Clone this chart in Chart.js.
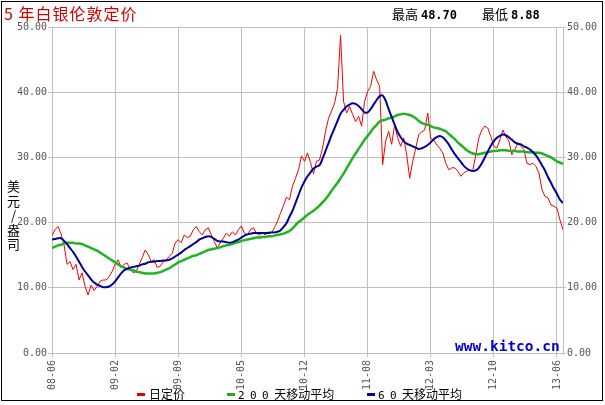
<!DOCTYPE html>
<html>
<head>
<meta charset="utf-8">
<script src="https://cdn.jsdelivr.net/npm/chart.js"></script>
<style>
    body { margin: 0; background: #fff; }
    #wrap { position: relative; width: 605px; height: 405px; overflow: hidden; }
    #silverChart { position: absolute; left: 0; top: 0; }
    #frame { position: absolute; left: 1px; top: 1px; width: 600px; height: 398px; border: 1px solid #000; pointer-events: none; }
    .txt { position: absolute; white-space: nowrap; font-family: "Noto Sans CJK SC", sans-serif; }
    #title { left: 4px; top: 1px; font-size: 16px; color: #cc0000; letter-spacing: 1px; }
    .stat { top: 6px; font-size: 13px; color: #000; line-height: 16px; }
    .stat b { font-family: "DejaVu Sans Mono", monospace; font-size: 12px; }
    #yTitle { left: 4px; top: 180px; font-size: 13px; color: #000; writing-mode: vertical-rl; text-orientation: upright; letter-spacing: 1.5px; }
    #mark { left: 455px; top: 338px; font-family: "DejaVu Sans Mono", monospace; font-weight: bold; font-size: 14.5px; color: #0000cc; }
    .leg { top: 386px; font-size: 12px; color: #000; line-height: 16px; }
    .leg .num { font-family: "DejaVu Sans Mono", monospace; font-size: 11px; letter-spacing: -0.6px; }
    .dash { position: absolute; top: 393px; width: 8px; height: 3px; }
</style>
</head>
<body>
<div id="wrap">
    <canvas id="silverChart" width="605" height="405"></canvas>
    <div id="frame"></div>
    <div class="txt" id="title">5 年白银伦敦定价</div>
    <div class="txt stat" style="left:392px">最高 <b>48.70</b></div>
    <div class="txt stat" style="left:482px">最低 <b>8.88</b></div>
    <div class="txt" id="yTitle">美元/盎司</div>
    <div class="txt" id="mark">www.kitco.cn</div>
    <div class="dash" style="left:137px;background:#dd0000"></div>
    <div class="txt leg" style="left:149px">日定价</div>
    <div class="dash" style="left:227px;background:#22aa22"></div>
    <div class="txt leg" style="left:238px"><span class="num">2 0 0 </span>天移动平均</div>
    <div class="dash" style="left:367px;background:#000099"></div>
    <div class="txt leg" style="left:378px"><span class="num">6 0 </span>天移动平均</div>
</div>
<script>
// daily fix, sampled evenly from 2008-06 to 2013-06
const dayPrice = [
    18.0, 18.9, 19.4, 18.3, 16.6, 13.6, 14.0, 12.8, 13.6, 11.2,
    12.3, 10.2, 8.9, 10.4, 9.6, 10.2, 11.0, 11.2, 11.2, 11.7,
    12.5, 13.6, 14.3, 13.1, 13.6, 13.8, 12.8, 12.3, 12.5, 13.6,
    14.6, 15.8, 15.1, 14.0, 14.3, 13.1, 13.3, 14.0, 14.3, 14.8,
    15.3, 16.9, 17.4, 16.9, 18.1, 17.7, 17.9, 18.9, 19.4, 18.6,
    18.1, 18.9, 19.2, 18.1, 17.1, 16.1, 16.9, 17.6, 18.4, 17.9,
    18.6, 18.1, 18.9, 19.5, 18.4, 18.1, 18.9, 19.2, 18.4, 18.1,
    18.4, 18.1, 18.6, 18.4, 19.2, 20.2, 21.4, 22.6, 23.9, 23.5,
    25.6, 26.8, 28.1, 30.2, 29.4, 30.7, 29.2, 27.5, 29.4, 29.6,
    31.4, 34.0, 36.0, 37.1, 38.3, 40.6, 48.7, 38.6, 36.8, 37.8,
    36.6, 35.5, 36.3, 34.8, 38.6, 40.1, 40.9, 43.2, 41.9, 40.9,
    28.9, 32.5, 34.0, 32.0, 35.0, 33.0, 31.7, 33.0, 30.4, 26.8,
    29.4, 31.4, 33.5, 33.9, 34.2, 36.8, 32.9, 32.7, 31.9, 31.4,
    30.7, 29.1, 28.1, 28.4, 28.4, 27.9, 27.1, 27.6, 27.9, 28.1,
    28.0, 30.4, 33.0, 34.2, 34.8, 34.5, 33.2, 31.7, 31.4, 32.7,
    34.2, 33.2, 32.5, 30.4, 31.2, 32.2, 31.7, 31.2, 29.1, 28.9,
    29.1, 28.6, 27.6, 25.1, 24.0, 23.8, 22.7, 22.5, 22.2, 20.4,
    18.9
];

const ma200 = [
    16.1, 16.3, 16.5, 16.6, 16.8, 16.9, 16.9, 16.9, 16.8, 16.8,
    16.7, 16.5, 16.3, 16.1, 15.9, 15.7, 15.4, 15.1, 14.8, 14.5,
    14.2, 13.9, 13.6, 13.3, 13.1, 12.9, 12.8, 12.7, 12.5, 12.4,
    12.3, 12.2, 12.2, 12.2, 12.2, 12.3, 12.4, 12.6, 12.8, 13.0,
    13.3, 13.6, 13.9, 14.1, 14.3, 14.5, 14.7, 14.9, 15.0, 15.2,
    15.4, 15.6, 15.8, 15.9, 16.0, 16.1, 16.2, 16.4, 16.5, 16.6,
    16.7, 16.9, 17.0, 17.2, 17.3, 17.4, 17.5, 17.6, 17.7, 17.7,
    17.8, 17.8, 17.9, 17.9, 18.0, 18.1, 18.2, 18.3, 18.5, 18.7,
    19.1, 19.6, 20.1, 20.4, 20.8, 21.2, 21.5, 21.8, 22.2, 22.6,
    23.1, 23.6, 24.2, 24.9, 25.5, 26.1, 26.8, 27.5, 28.3, 29.1,
    29.9, 30.6, 31.3, 32.0, 32.7, 33.3, 33.9, 34.5, 35.0, 35.5,
    35.7, 35.8, 36.0, 36.1, 36.3, 36.5, 36.6, 36.7, 36.6, 36.5,
    36.3, 36.0, 35.6, 35.3, 35.1, 35.0, 34.8, 34.6, 34.5, 34.4,
    34.2, 34.0, 33.6, 33.2, 32.8, 32.3, 31.9, 31.5, 31.1, 30.8,
    30.6, 30.5, 30.5, 30.6, 30.7, 30.8, 30.9, 31.0, 31.0, 31.1,
    31.1, 31.1, 31.0, 31.0, 31.0, 30.9, 30.9, 30.9, 30.8, 30.8,
    30.8, 30.7, 30.7, 30.6, 30.4, 30.2, 30.0, 29.7, 29.4, 29.2,
    29.0
];

const ma60 = [
    17.4, 17.5, 17.6, 17.6, 17.2, 16.7, 16.1, 15.5, 14.8, 14.0,
    13.2, 12.5, 11.9, 11.3, 10.8, 10.5, 10.3, 10.1, 10.1, 10.2,
    10.5, 11.0, 11.6, 12.2, 12.7, 12.9, 13.1, 13.2, 13.3, 13.4,
    13.6, 13.7, 13.9, 14.0, 14.0, 14.1, 14.1, 14.2, 14.2, 14.3,
    14.5, 14.8, 15.1, 15.4, 15.8, 16.1, 16.4, 16.7, 17.0, 17.4,
    17.6, 17.8, 17.9, 17.8, 17.5, 17.2, 17.1, 17.1, 17.0, 16.9,
    17.0, 17.2, 17.4, 17.7, 18.0, 18.2, 18.3, 18.4, 18.4, 18.4,
    18.4, 18.4, 18.4, 18.5, 18.5, 18.6, 18.8, 19.3, 19.9, 20.9,
    21.8, 23.0, 24.2, 25.4, 26.3, 27.1, 27.7, 28.3, 28.6, 28.8,
    29.8, 31.0, 32.2, 33.4, 34.5, 35.6, 36.7, 37.3, 37.8, 38.1,
    38.3, 38.2, 37.9, 37.4, 36.9, 36.9, 37.4, 38.1, 38.8, 39.4,
    39.5, 38.7, 37.4, 36.2, 35.0, 33.9, 33.1, 32.5, 32.1, 31.9,
    31.7, 31.5, 31.3, 31.4, 31.6, 31.9, 32.3, 32.8, 33.1, 33.3,
    33.1, 32.6, 32.0, 31.2, 30.5, 29.9, 29.3, 28.7, 28.3, 28.0,
    27.9, 28.0, 28.4, 29.1, 30.0, 30.9, 31.8, 32.5, 33.0, 33.3,
    33.5, 33.4, 33.1, 32.7, 32.3, 32.1, 32.0, 31.7, 31.5, 31.2,
    30.8, 30.3, 29.6, 28.8, 28.0, 27.0, 26.1, 25.2, 24.4, 23.5,
    23.0
];

// sample index of each date label on the x axis
const tickIdx = [0, 21, 42, 63, 84, 105, 126, 147, 168];
const tickLabels = ['08-06', '09-02', '09-09', '10-05', '10-12', '11-08', '12-03', '12-10', '13-06'];

const gridColor = '#c0c0c0';
const tickFont = { family: 'DejaVu Sans Mono', size: 10 };
const tickColor = '#555555';

function toPoints(arr) {
    return arr.map((v, i) => ({ x: i, y: v }));
}

const ctx = document.getElementById('silverChart').getContext('2d');
new Chart(ctx, {
    type: 'line',
    data: {
        datasets: [{
            label: '日定价',
            data: toPoints(dayPrice),
            borderColor: '#ee0000',
            borderWidth: 1,
            pointRadius: 0,
            tension: 0,
            order: 3
        }, {
            label: '200 天移动平均',
            data: toPoints(ma200),
            borderColor: '#22b222',
            borderWidth: 2.5,
            pointRadius: 0,
            tension: 0.3,
            order: 2
        }, {
            label: '60 天移动平均',
            data: toPoints(ma60),
            borderColor: '#000099',
            borderWidth: 2,
            pointRadius: 0,
            tension: 0.3,
            order: 1
        }]
    },
    options: {
        responsive: false,
        animation: false,
        events: [],
        layout: { padding: { top: 27, left: 0, right: 0, bottom: 0 } },
        plugins: {
            legend: { display: false },
            tooltip: { enabled: false }
        },
        scales: {
            x: {
                type: 'linear',
                min: 0,
                max: dayPrice.length - 1,
                afterBuildTicks: function(axis) {
                    axis.ticks = tickIdx.map(v => ({ value: v }));
                },
                afterFit: function(axis) { axis.height = 52; },
                grid: { color: gridColor, tickLength: 4 },
                border: { color: gridColor },
                ticks: {
                    autoSkip: false,
                    minRotation: 90,
                    maxRotation: 90,
                    padding: 3,
                    font: tickFont,
                    color: tickColor,
                    callback: function(value) {
                        return tickLabels[tickIdx.indexOf(value)];
                    }
                }
            },
            y: {
                position: 'left',
                min: 0,
                max: 50,
                afterFit: function(axis) { axis.width = 52; },
                grid: { color: gridColor, tickLength: 4 },
                border: { color: gridColor },
                ticks: {
                    stepSize: 10,
                    padding: 1,
                    font: tickFont,
                    color: tickColor,
                    callback: function(value) { return value.toFixed(2); }
                }
            },
            y2: {
                position: 'right',
                min: 0,
                max: 50,
                afterFit: function(axis) { axis.width = 42; },
                grid: { drawOnChartArea: false, color: gridColor, tickLength: 3 },
                border: { color: gridColor },
                ticks: {
                    stepSize: 10,
                    padding: 1,
                    font: tickFont,
                    color: tickColor,
                    callback: function(value) { return value.toFixed(2); }
                }
            }
        }
    }
});
</script>
</body>
</html>
